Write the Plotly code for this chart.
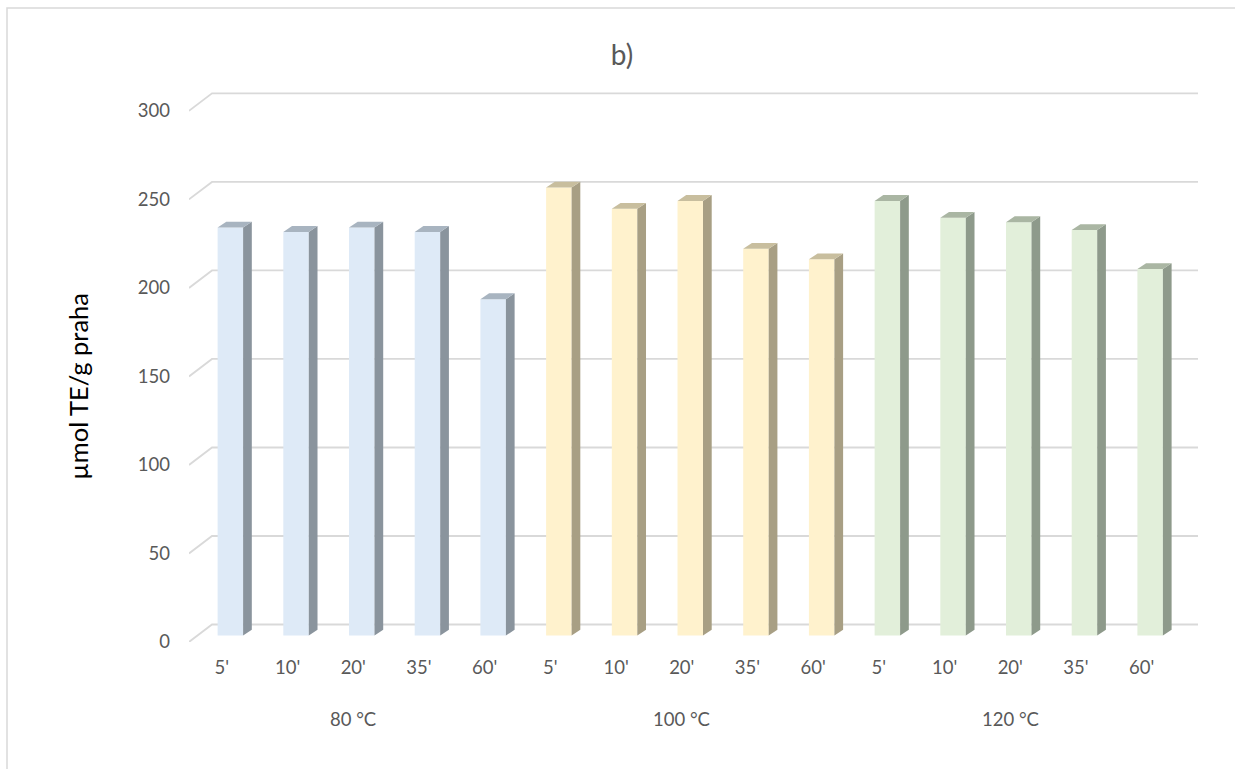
import plotly.graph_objects as go

# ---------------- data ----------------
temps = ["80 °C", "100 °C", "120 °C"]
times = ["5'", "10'", "20'", "35'", "60'"]
vals_80 = [230.5, 228, 230.5, 228, 190]
vals_100 = [253, 241, 245.5, 218.5, 212.5]
vals_120 = [245.5, 236, 233.5, 229, 207]
y_ticks = [0, 50, 100, 150, 200, 250, 300]

front_colors = ["#DEEAF7", "#FFF2CD", "#E2EFDA"]
side_colors = ["#8A949D", "#A89F84", "#8E9A8B"]
top_colors = ["#A8B4C0", "#C8BE9E", "#AAB6A3"]

# ---------------- geometry (pseudo-3D, oblique projection) ----------------
W, H = 1235, 769
L_PX, R_PX, T_PX, B_PX = 189, 1198, 90, 642.5
PX_X = 65.7            # pixels per category
PX_Y = 1.772           # pixels per value unit
X_MIN = -0.5
X_MAX = X_MIN + (R_PX - L_PX) / PX_X
Y_MAX = (B_PX - T_PX) / PX_Y

DX = 23 / PX_X         # full depth offset (x units)
DY = 17.5 / PX_Y       # full depth offset (value units)
F1 = 0.37              # depth of bar front face
BW = 25.5 / PX_X       # bar width
BDX = 8.7 / PX_X       # bar depth (x)
BDY = 5.8 / PX_Y       # bar depth (y)

groups = [vals_80, vals_100, vals_120]
fig = go.Figure()

all_x, all_y, all_c = [], [], []
for g, vals in enumerate(groups):
    for k, v in enumerate(vals):
        idx = g * len(times) + k
        all_x.append(idx + F1 * DX)
        all_y.append(v)
        all_c.append(front_colors[g])

base = F1 * DY
fig.add_trace(go.Bar(
    x=all_x, y=all_y, base=base, width=BW,
    marker=dict(color=all_c, line=dict(width=0)),
    hoverinfo="skip", showlegend=False))

# side and top faces
for g, vals in enumerate(groups):
    sx, sy, tx, ty = [], [], [], []
    for k, v in enumerate(vals):
        idx = g * len(times) + k
        xc = idx + F1 * DX
        xl, xr = xc - BW / 2, xc + BW / 2
        yb, yt = base, base + v
        sx += [xr, xr + BDX, xr + BDX, xr, xr, None]
        sy += [yb, yb + BDY, yt + BDY, yt, yb, None]
        tx += [xl, xl + BDX, xr + BDX, xr, xl, None]
        ty += [yt, yt + BDY, yt + BDY, yt, yt, None]
    fig.add_trace(go.Scatter(x=sx, y=sy, mode="lines", fill="toself",
                             fillcolor=side_colors[g], line=dict(width=0),
                             hoverinfo="skip", showlegend=False))
    fig.add_trace(go.Scatter(x=tx, y=ty, mode="lines", fill="toself",
                             fillcolor=top_colors[g], line=dict(width=0),
                             hoverinfo="skip", showlegend=False))

# perspective gridlines (floor edge + back wall)
shapes = []
for v in y_ticks:
    path = f"M {X_MIN},{v} L {X_MIN + DX},{v + DY} L {X_MAX},{v + DY}"
    shapes.append(dict(type="path", path=path, xref="x", yref="y",
                       line=dict(color="#D9D9D9", width=1.8), layer="below"))

# chart border
pw, ph = R_PX - L_PX, B_PX - T_PX
shapes.append(dict(type="rect", xref="paper", yref="paper",
                   x0=(7 - L_PX) / pw, x1=(1260 - L_PX) / pw,
                   y0=(B_PX - 800) / ph, y1=(B_PX - 8) / ph,
                   line=dict(color="#D9D9D9", width=1.5), layer="below"))

text_color = "#595959"
font_family = "Lato, Carlito, Calibri, sans-serif"

annotations = []
for g, t in enumerate(temps):
    annotations.append(dict(x=g * len(times) + 2, y=0, xref="x", yref="y",
                            text=t, showarrow=False, yshift=-77,
                            font=dict(size=18.5, color=text_color, family=font_family)))
annotations.append(dict(x=0, xref="paper", xshift=61 - L_PX,
                        y=(B_PX - 387) / ph, yref="paper",
                        text="µmol TE/g praha", textangle=-90, showarrow=False,
                        font=dict(size=25.5, color="#000000", family=font_family)))

fig.update_layout(
    width=W, height=H,
    margin=dict(l=L_PX, r=W - R_PX, t=T_PX, b=H - B_PX, autoexpand=False),
    paper_bgcolor="white", plot_bgcolor="white",
    barmode="overlay",
    title=dict(text="b)", x=622 / W, xref="container", xanchor="center",
               y=1 - 55 / H, yref="container", yanchor="middle",
               font=dict(size=28, color=text_color, family=font_family)),
    xaxis=dict(range=[X_MIN, X_MAX], tickmode="array",
               tickvals=list(range(len(temps) * len(times))),
               ticktext=times * len(temps),
               showgrid=False, zeroline=False, showline=False, ticks="",
               ticklabelstandoff=12,
               tickfont=dict(size=18.5, color=text_color, family=font_family)),
    yaxis=dict(range=[0, Y_MAX], tickmode="array", tickvals=y_ticks,
               ticktext=[str(v) for v in y_ticks],
               showgrid=False, zeroline=False, showline=False, ticks="",
               ticklabelstandoff=18,
               tickfont=dict(size=18.5, color=text_color, family=font_family)),
    shapes=shapes, annotations=annotations,
)

fig.write_html("out.html", config={"displayModeBar": False},
               post_script="document.body.style.margin='0px';document.body.style.padding='0px';")
